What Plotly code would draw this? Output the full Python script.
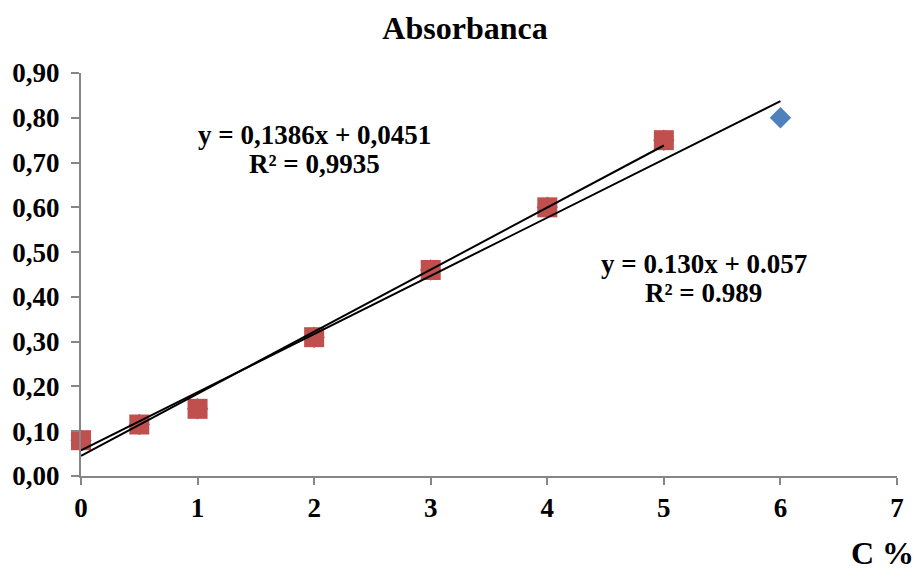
import plotly.graph_objects as go

# Concentration (C %) and measured absorbance
conc_all = [0, 0.5, 1, 2, 3, 4, 5, 6]
abs_all = [0.08, 0.115, 0.15, 0.31, 0.46, 0.60, 0.75, 0.80]
conc_sub = [0, 0.5, 1, 2, 3, 4, 5]
abs_sub = [0.08, 0.115, 0.15, 0.31, 0.46, 0.60, 0.75]

# Linear trend lines (slope, intercept, x range)
fit_sub = (0.1386, 0.0451, [0, 5])
fit_all = (0.130, 0.057, [0, 6])

y_ticks = [0, 0.1, 0.2, 0.3, 0.4, 0.5, 0.6, 0.7, 0.8, 0.9]
y_tick_labels = ["0,00", "0,10", "0,20", "0,30", "0,40", "0,50", "0,60", "0,70", "0,80", "0,90"]
x_ticks = [0, 1, 2, 3, 4, 5, 6, 7]

FONT = "Liberation Serif"
BLUE = "#4F81BD"
RED = "#C0504D"
L, R, T, B = 81, 15, 73, 96
W_PAGE, H_PAGE = 916, 572

fig = go.Figure()

fig.add_trace(go.Scatter(
    x=conc_all, y=abs_all, mode="markers",
    marker=dict(symbol="diamond", size=16.5, color=BLUE),
    showlegend=False, cliponaxis=False,
))
fig.add_trace(go.Scatter(
    x=conc_sub, y=abs_sub, mode="markers",
    marker=dict(symbol="square", size=20, color=RED),
    showlegend=False, cliponaxis=False,
))

for slope, icpt, xr in (fit_sub, fit_all):
    fig.add_trace(go.Scatter(
        x=xr, y=[slope * v + icpt for v in xr], mode="lines",
        line=dict(color="black", width=2),
        showlegend=False, cliponaxis=False,
    ))


def note(xpix, ypix, text, size):
    # place text centred on a page pixel position
    w, h = W_PAGE - L - R, H_PAGE - T - B
    fig.add_annotation(
        x=(xpix - L) / w, y=1 - (ypix - T) / h, xref="paper", yref="paper",
        xanchor="center", yanchor="middle",
        text=text, showarrow=False, align="center",
        font=dict(family=FONT, size=size, color="black"),
    )


note(316, 135, "<b>y = 0,1386x + 0,0451</b>", 27)
note(316, 164, "<b>R² = 0,9935</b>", 27)
note(707, 264, "<b>y = 0.130x + 0.057</b>", 27)
note(707, 293, "<b>R² = 0.989</b>", 27)
note(886, 553, "<b>C %</b>", 32)

fig.update_layout(
    width=W_PAGE, height=H_PAGE,
    margin=dict(l=L, r=R, t=T, b=B),
    paper_bgcolor="white", plot_bgcolor="white",
    title=dict(text="<b>Absorbanca</b>", x=465 / W_PAGE, xanchor="center",
               y=1 - 28 / H_PAGE, yanchor="middle",
               font=dict(family=FONT, size=32, color="black")),
    font=dict(family=FONT, color="black"),
)

fig.update_xaxes(
    range=[0, 7], tickvals=x_ticks, ticktext=[f"<b>{v}</b>" for v in x_ticks],
    showgrid=False, zeroline=False, showline=True, linecolor="#868686", linewidth=2,
    ticks="outside", ticklen=7, tickcolor="#868686", tickwidth=2,
    tickfont=dict(family=FONT, size=27, color="black"),
)
fig.update_yaxes(
    range=[0, 0.9], tickvals=y_ticks, ticktext=[f"<b>{t}</b>" for t in y_tick_labels],
    showgrid=False, zeroline=False, showline=True, linecolor="#868686", linewidth=2,
    ticks="outside", ticklen=8, tickcolor="#868686", tickwidth=2,
    ticklabelstandoff=6,
    tickfont=dict(family=FONT, size=27, color="black"),
)

fig.write_html("out.html")
